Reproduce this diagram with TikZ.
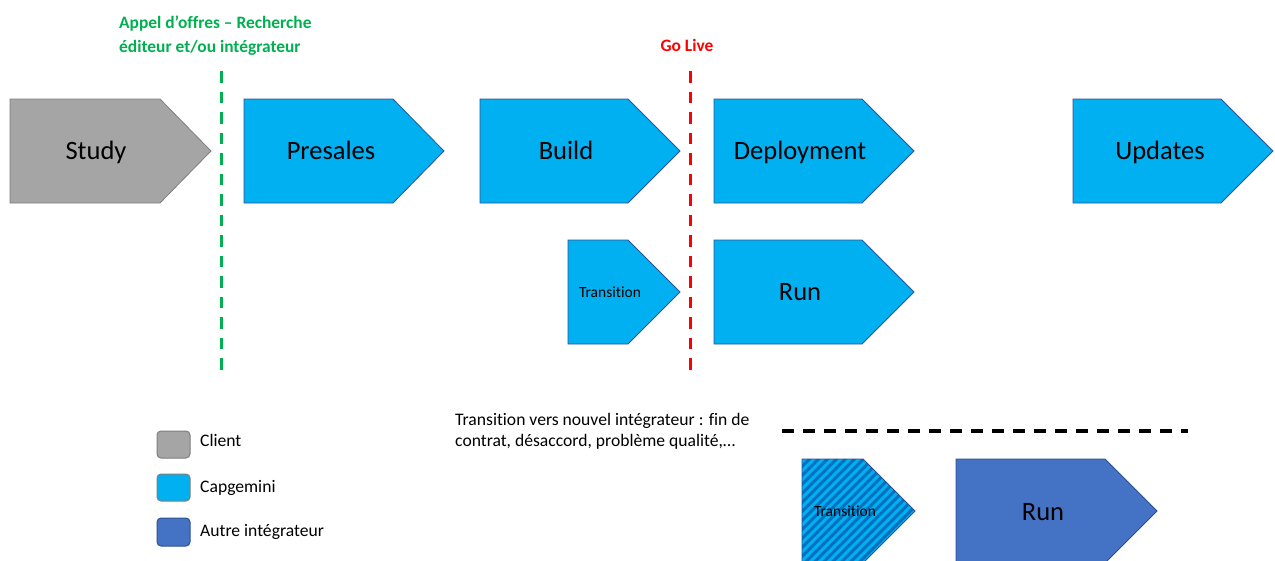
\documentclass[tikz,border=0pt]{standalone}
\usepackage{fontspec}
\setmainfont{Carlito}[Ligatures=NoCommon]
\definecolor{cgray}{HTML}{A5A5A5}
\definecolor{cgrayb}{HTML}{7F7F7F}
\definecolor{ccyan}{HTML}{00B0F0}
\definecolor{ccyanb}{HTML}{2F5597}
\definecolor{cblue}{HTML}{4472C4}
\definecolor{cblueb}{HTML}{2F528F}
\definecolor{cstripe}{HTML}{0070C0}
\definecolor{cgreen}{HTML}{00B050}
\definecolor{cred}{HTML}{FF0000}
\newcommand\pentapath[5]{(#1,#2) -- (#3,#2) -- (#4,{(#2+#5)/2}) -- (#3,#5) -- (#1,#5) -- cycle}
\tikzset{
  grayshape/.style={fill=cgray,draw=cgrayb,line width=0.8pt},
  cyanshape/.style={fill=ccyan,draw=ccyanb,line width=0.8pt},
  blueshape/.style={fill=cblue,draw=cblueb,line width=0.8pt},
  biglabel/.style={inner sep=0pt,anchor=base,font=\fontsize{26.5}{30}\selectfont},
  smalllabel/.style={inner sep=0pt,anchor=base,font=\fontsize{15.5}{18}\selectfont},
  plaintext/.style={inner sep=0pt,anchor=base west,font=\fontsize{17.6}{21}\selectfont},
  boldtext/.style={inner sep=0pt,font=\fontsize{17.4}{21}\selectfont\bfseries},
  milestone/.style={line width=3pt,dash pattern=on 11.5pt off 9pt},
  legendbox/.style={rounded corners=4pt,line width=1pt},
}
\begin{document}
\begin{tikzpicture}[x=1pt,y=-1pt]
\clip (0,0) rectangle (1275,560);
\fill[white] (0,0) rectangle (1275,560);

% top row
\draw[grayshape] \pentapath{10}{99}{160}{211}{203};
\node[biglabel] (study) at (96,159) {Study};
\draw[cyanshape] \pentapath{244}{99}{393}{444}{203};
\node[biglabel] (presales) at (331,159) {Presales};
\draw[cyanshape] \pentapath{480}{99}{628}{680}{203};
\node[biglabel] (build) at (566,159) {Build};
\draw[cyanshape] \pentapath{714}{99}{862}{914}{203};
\node[biglabel] (deploy) at (800,159) {Deployment};
\draw[cyanshape] \pentapath{1073}{99}{1221}{1273}{203};
\node[biglabel] (updates) at (1160,159) {Updates};

% second row
\draw[cyanshape] \pentapath{568}{240}{628}{680}{344};
\node[smalllabel] (trans1) at (610,297) {Transition};
\draw[cyanshape] \pentapath{714}{240}{862}{914}{344};
\node[biglabel] (run1) at (800,300.5) {Run};

% bottom row
\begin{scope}
  \clip \pentapath{802}{459}{863}{915}{563};
  \fill[cstripe] (790,450) rectangle (930,570);
  \foreach \i in {680,689,...,940} {
    \draw[ccyan,line width=3pt] (\i,575) -- (\i+130,445);
  }
\end{scope}
\draw[draw=cblueb,line width=0.8pt] \pentapath{802}{459}{863}{915}{563};
\node[smalllabel] (trans2) at (845,516) {Transition};
\draw[blueshape] \pentapath{956}{459}{1105}{1157}{563};
\node[biglabel] (run2) at (1043,520) {Run};

% milestones
\coordinate (g1) at (221,71); \coordinate (g2) at (221,376);
\draw[milestone,cgreen] (g1) -- (g2);
\coordinate (r1) at (690,71); \coordinate (r2) at (690,376);
\draw[milestone,cred] (r1) -- (r2);
\node[boldtext,text=cgreen,anchor=base west] (ao1) at (119,28.5) {Appel d’offres – Recherche};
\node[boldtext,text=cgreen,anchor=base west] (ao2) at (119,52) {éditeur et/ou intégrateur};
\node[boldtext,text=cred,anchor=base] (golive) at (687,51) {Go Live};

% transition note
\node[plaintext] (note1) at (455,425) {Transition vers nouvel intégrateur : fin de};
\node[plaintext] (note2) at (455,446) {contrat, désaccord, problème qualité,…};
\coordinate (k1) at (782,431); \coordinate (k2) at (1188,431);
\draw[black,line width=3.3pt,dash pattern=on 12pt off 9pt] (k1) -- (k2);

% legend
\draw[legendbox,fill=cgray,draw=cgrayb] (157,431) rectangle (190,458);
\node[plaintext] (lclient) at (200,446) {Client};
\draw[legendbox,fill=ccyan,draw=cgrayb] (157,474) rectangle (190,501);
\node[plaintext] (lcap) at (200,492) {Capgemini};
\draw[legendbox,fill=cblue,draw=cblueb] (157,518) rectangle (190,546);
\node[plaintext] (lautre) at (200,536) {Autre intégrateur};
\end{tikzpicture}
\end{document}
